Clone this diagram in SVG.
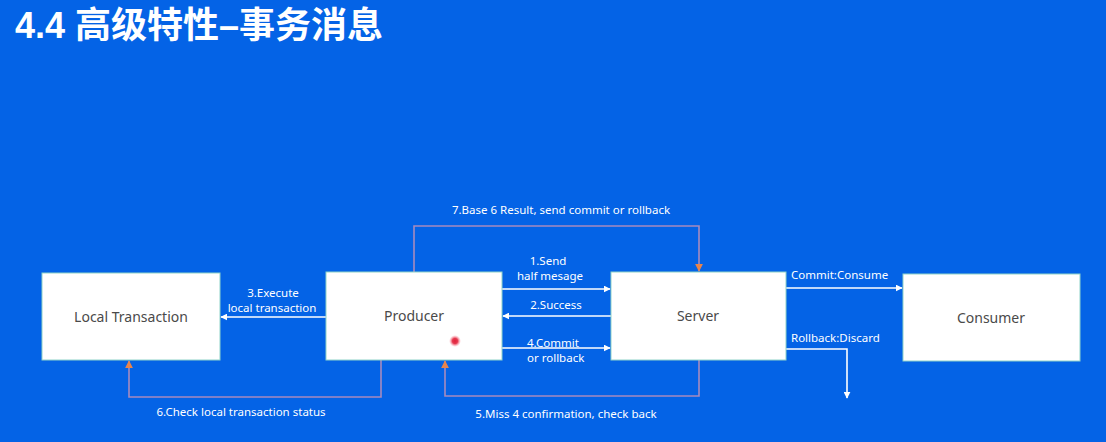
<svg xmlns="http://www.w3.org/2000/svg" width="1106" height="442" viewBox="0 0 1106 442">
  <defs>
    <marker id="wArrow" viewBox="0 0 10 10" refX="9" refY="5" markerWidth="7" markerHeight="7" markerUnits="userSpaceOnUse" orient="auto">
      <path d="M0,0 L10,5 L0,10 z" fill="#ffffff"/>
    </marker>
    <marker id="oArrow" viewBox="0 0 10 10" refX="9" refY="5" markerWidth="8" markerHeight="8" markerUnits="userSpaceOnUse" orient="auto">
      <path d="M0,0 L10,5 L0,10 z" fill="#e8844c"/>
    </marker>
    <radialGradient id="dotGlow">
      <stop offset="0" stop-color="#e0203a"/>
      <stop offset="0.45" stop-color="#e63a50"/>
      <stop offset="1" stop-color="#ff9aa8" stop-opacity="0"/>
    </radialGradient>
    <style>
      .box { fill: #ffffff; stroke: #8fd3c8; stroke-width: 1; }
      .node-label { font-family: "Noto Sans", "Liberation Sans", sans-serif; font-size: 14px; fill: #4a4a4a; text-anchor: middle; }
      .lbl { font-family: "Noto Sans", "Liberation Sans", sans-serif; font-size: 11.5px; fill: #ffffff; }
      .mid { text-anchor: middle; }
      .wline { fill: none; stroke: #ffffff; stroke-width: 1.6; }
      .loop { fill: none; stroke: #a78bbf; stroke-width: 1.6; }
    </style>
  </defs>

  <!-- background -->
  <rect x="0" y="0" width="1106" height="442" fill="#0463e6"/>

  <!-- title -->
  <text x="15" y="38" font-family="'Liberation Sans', 'Noto Sans CJK SC', sans-serif" font-size="36" font-weight="bold" fill="#ffffff">4.4 高级特性–事务消息</text>

  <!-- connectors -->
  <g id="connectors">
    <!-- 7: producer -> server over the top -->
    <polyline class="loop" points="414,272 414,226 699,226 699,271" marker-end="url(#oArrow)"/>
    <!-- 6: producer -> local transaction underneath -->
    <polyline class="loop" points="381,360 381,397 129,397 129,361" marker-end="url(#oArrow)"/>
    <!-- 5: server -> producer underneath -->
    <polyline class="loop" points="699,360 699,396 445,396 445,361" marker-end="url(#oArrow)"/>

    <line class="wline" x1="502" y1="289" x2="610" y2="289" marker-end="url(#wArrow)"/>
    <line class="wline" x1="611" y1="316" x2="503" y2="316" marker-end="url(#wArrow)"/>
    <line class="wline" x1="326" y1="317" x2="221" y2="317" marker-end="url(#wArrow)"/>
    <line class="wline" x1="502" y1="348" x2="610" y2="348" marker-end="url(#wArrow)"/>
    <line class="wline" x1="786" y1="288" x2="902" y2="288" marker-end="url(#wArrow)"/>
    <polyline class="wline" points="786,349 847,349 847,398" marker-end="url(#wArrow)"/>

    <text class="lbl mid" x="561" y="214">7.Base 6 Result, send commit or rollback</text>
    <text class="lbl mid" x="548" y="265">1.Send</text>
    <text class="lbl mid" x="550" y="280">half mesage</text>
    <text class="lbl mid" x="556" y="309">2.Success</text>
    <text class="lbl mid" x="273" y="297">3.Execute</text>
    <text class="lbl mid" x="272" y="312">local transaction</text>
    <text class="lbl" x="527" y="347">4.Commit</text>
    <text class="lbl" x="527" y="362">or rollback</text>
    <text class="lbl mid" x="566" y="418">5.Miss 4 confirmation, check back</text>
    <text class="lbl mid" x="241" y="416">6.Check local transaction status</text>
    <text class="lbl" x="791" y="279">Commit:Consume</text>
    <text class="lbl" x="791" y="342">Rollback:Discard</text>
  </g>

  <!-- nodes -->
  <g id="local-transaction">
    <rect class="box" x="42" y="273" width="178" height="87"/>
    <text class="node-label" x="131" y="322">Local Transaction</text>
  </g>
  <g id="producer">
    <rect class="box" x="326" y="272" width="176" height="88"/>
    <text class="node-label" x="414" y="321">Producer</text>
  </g>
  <g id="server">
    <rect class="box" x="611" y="272" width="175" height="88"/>
    <text class="node-label" x="698" y="321">Server</text>
  </g>
  <g id="consumer">
    <rect class="box" x="903" y="274" width="177" height="87"/>
    <text class="node-label" x="991" y="323">Consumer</text>
  </g>

  <!-- pointer highlight -->
  <circle cx="455" cy="341" r="6" fill="url(#dotGlow)"/>
</svg>
